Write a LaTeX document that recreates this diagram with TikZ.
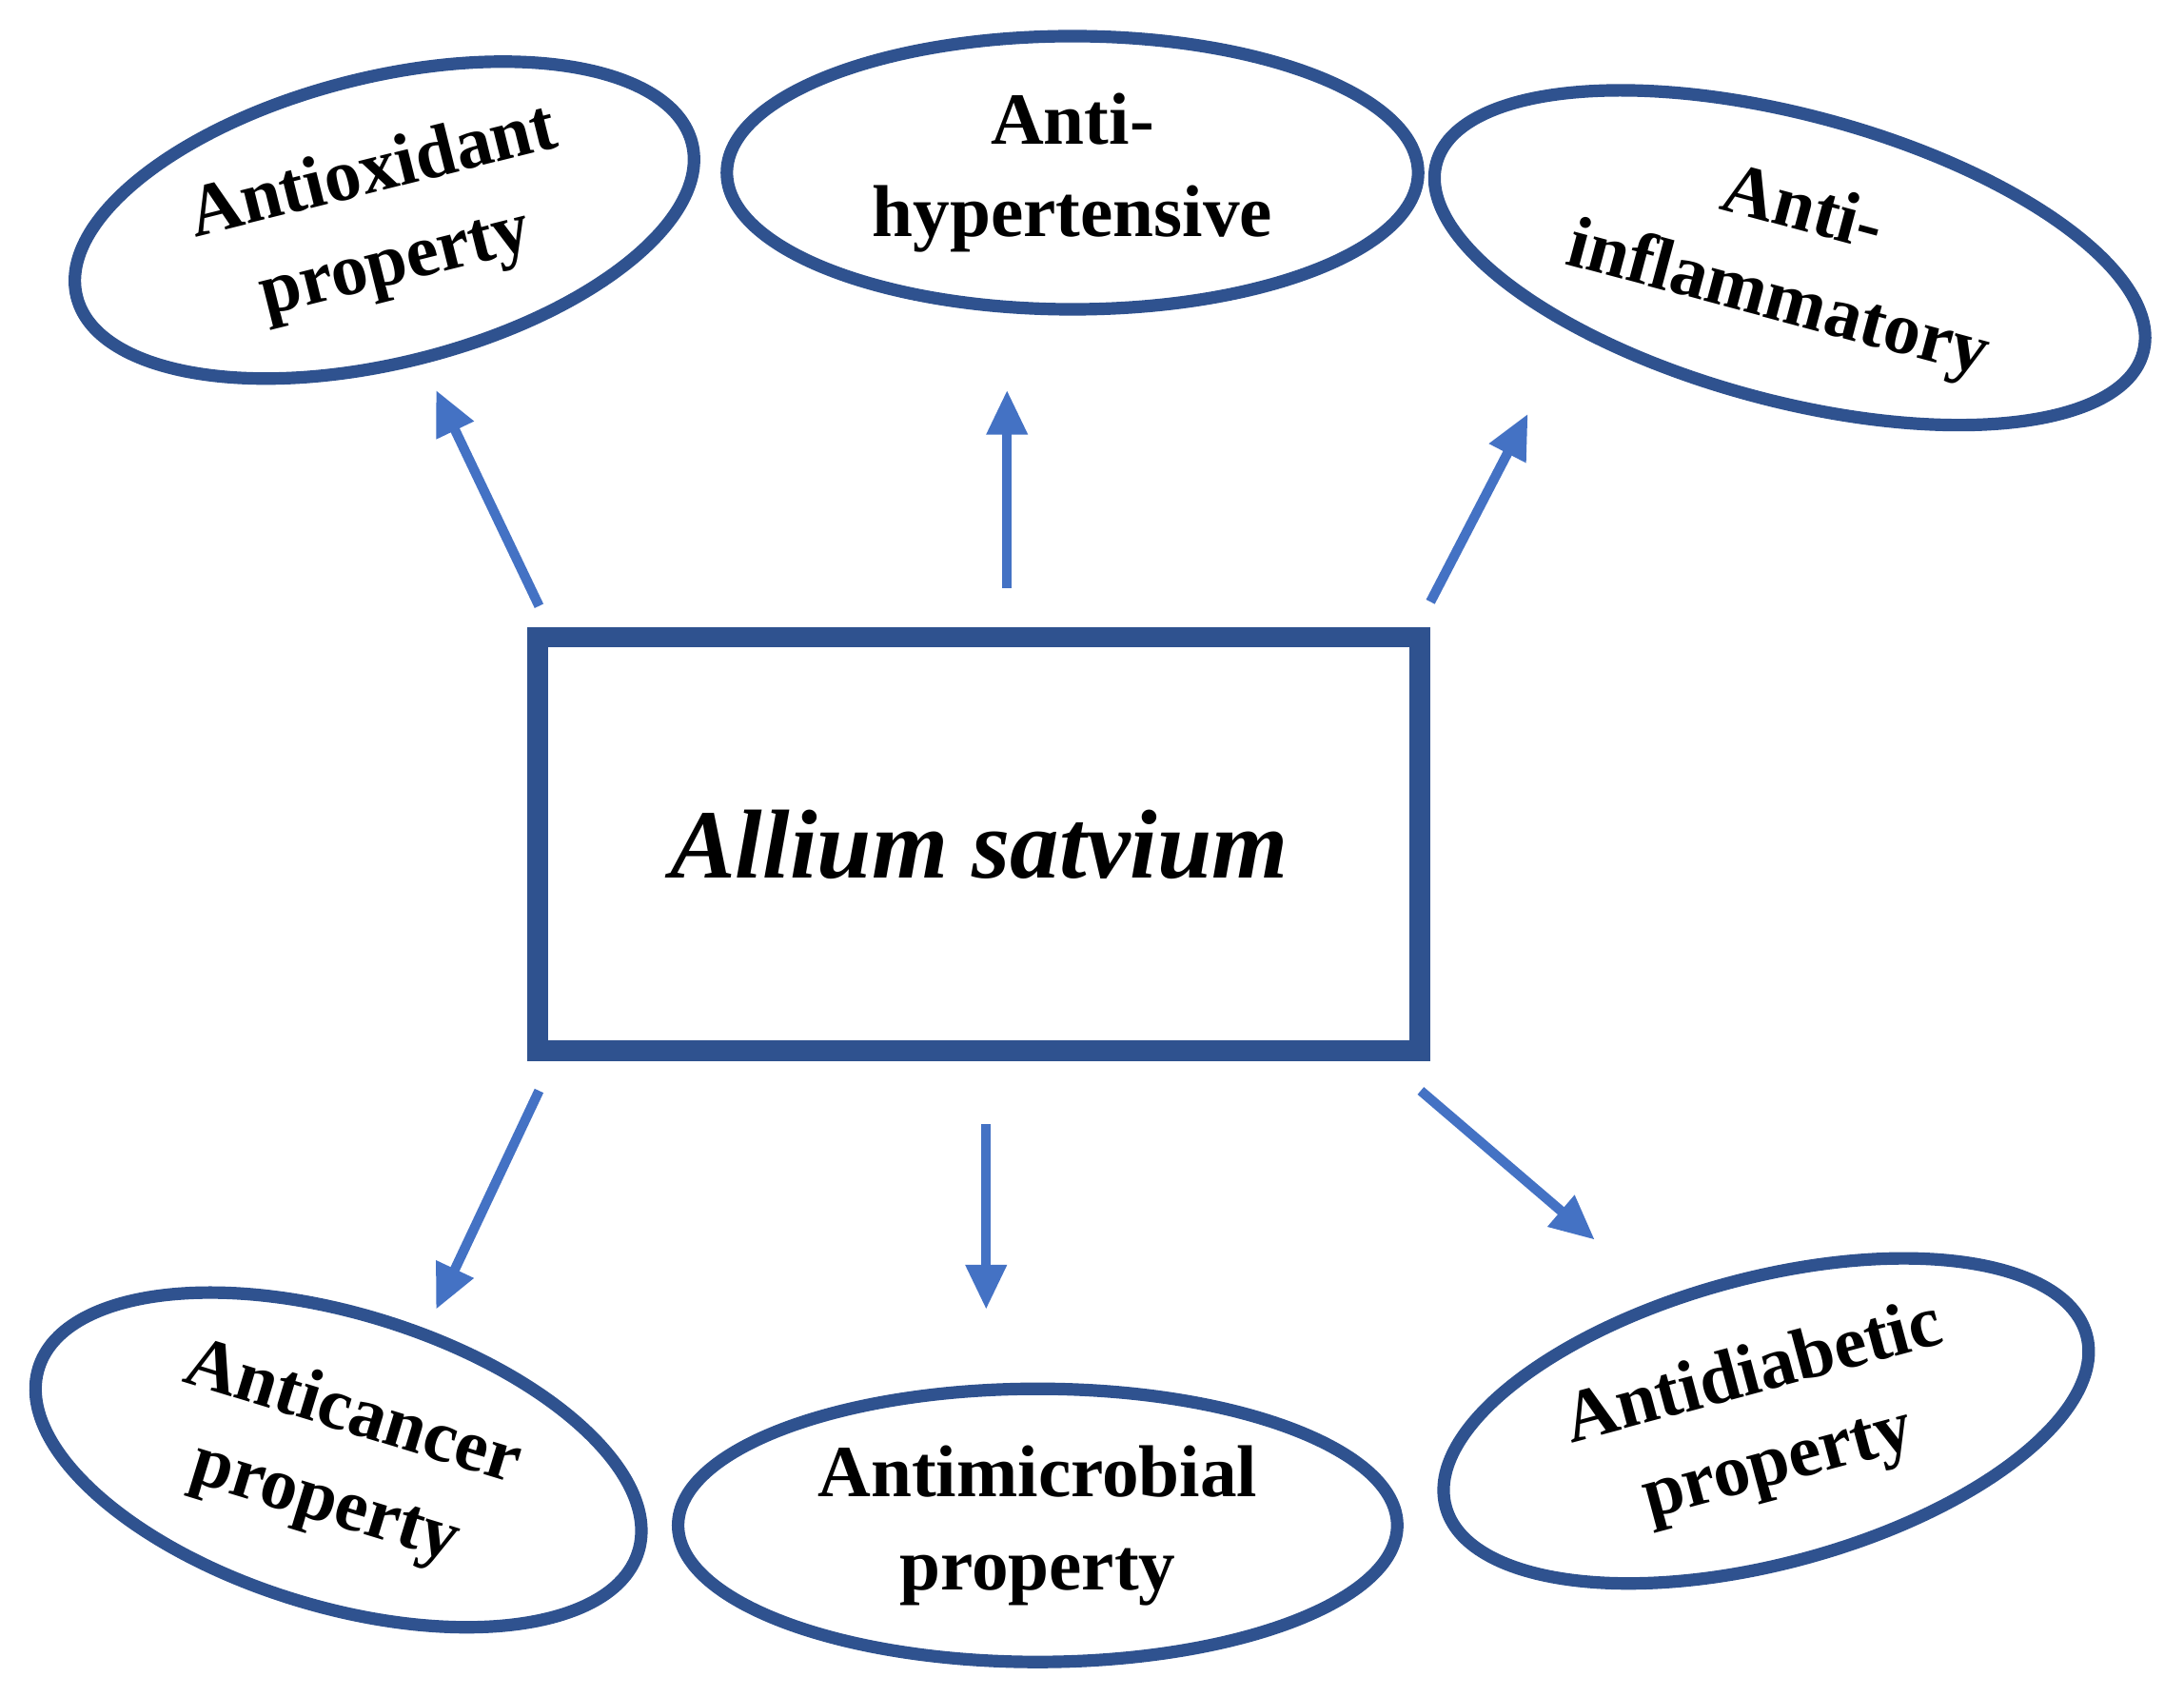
\documentclass[tikz,border=0pt]{standalone}
\usepackage{fontspec}
\setmainfont{Liberation Serif}
\usetikzlibrary{shapes.geometric,arrows.meta}
\definecolor{edgeblue}{RGB}{47,82,143}
\definecolor{arrowblue}{RGB}{68,114,196}

\tikzstyle{property}=[ellipse,
                                    line width=0.9mm,
                                    draw=edgeblue,
                                    inner sep=0pt,
                                    align=center,
                                    font=\fontsize{15}{19}\selectfont\bfseries]
\tikzstyle{plant}=[rectangle,
                                    line width=1.5mm,
                                    draw=edgeblue,
                                    inner sep=0pt,
                                    font=\fontsize{20}{24}\selectfont\bfseries\itshape]
\tikzstyle{link}=[-{Triangle[length=3.2mm,width=2.8mm]},
                                    line width=0.7mm,
                                    draw=arrowblue]

\begin{document}
\begin{tikzpicture}[x=0.01cm,y=-0.01cm]
  \useasboundingbox (0,0) rectangle (1568,1218);

  % Central box
  \node (plant) [plant,minimum width=6.33cm,minimum height=2.97cm] at (703,606) {Allium satvium};

  % Upper row of properties
  \node (antiox) [property,minimum width=4.55cm,minimum height=2.05cm,rotate=14] at (276,158) {Antioxidant\\property};
  \node (antihyp) [property,minimum width=4.96cm,minimum height=1.96cm] at (770,124) {Anti-\\hypertensive};
  \node (antiinf) [property,minimum width=5.25cm,minimum height=2.05cm,rotate=-15] at (1285,185) {Anti-\\inflammatory};

  % Lower row of properties
  \node (anticanc) [property,minimum width=4.5cm,minimum height=2.1cm,rotate=-17] at (243,1048) {Anticancer\\property};
  \node (antimic) [property,minimum width=5.16cm,minimum height=1.96cm] at (745,1095) {Antimicrobial\\property};
  \node (antidia) [property,minimum width=4.76cm,minimum height=2.05cm,rotate=15] at (1268,1020) {Antidiabetic\\property};

  % Arrow end points
  \coordinate (s1) at (387,435); \coordinate (e1) at (313,280);
  \coordinate (s2) at (723,422); \coordinate (e2) at (723,280);
  \coordinate (s3) at (1027,432); \coordinate (e3) at (1097,297);
  \coordinate (s4) at (387,783); \coordinate (e4) at (313,940);
  \coordinate (s5) at (708,807); \coordinate (e5) at (708,940);
  \coordinate (s6) at (1020,783); \coordinate (e6) at (1145,890);

  \foreach \i in {1,...,6}
    \draw[link] (s\i) -- (e\i);
\end{tikzpicture}
\end{document}
